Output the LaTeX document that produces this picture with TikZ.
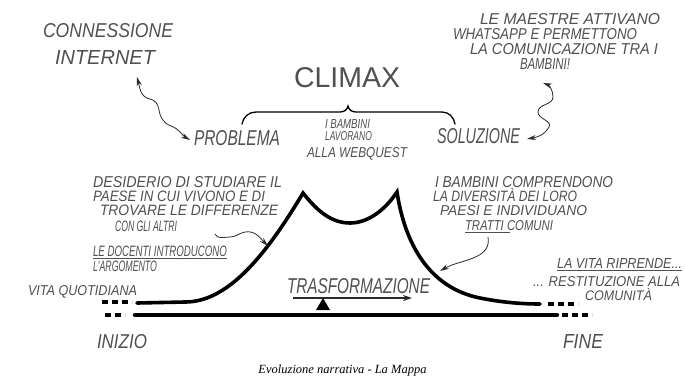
\documentclass[tikz,border=0pt]{standalone}
\usepackage{graphicx}
\usepackage{fontspec}
\usetikzlibrary{arrows.meta}
\newfontfamily\hwfont{Liberation Sans}
\newfontfamily\capfont{Liberation Serif}
\newcommand{\hwt}[3]{\resizebox{#1pt}{#2pt}{\hwfont\itshape #3}}
\newcommand{\hwu}[3]{\resizebox{#1pt}{#2pt}{\hwfont #3}}
\definecolor{ink}{HTML}{505050}
\definecolor{pen}{HTML}{2A2A2A}
\tikzset{
  hw/.style={inner sep=0pt, outer sep=0pt, anchor=base west, text=ink},
  uline/.style={draw=ink, line width=0.6pt},
  wavy/.style={draw=pen, line width=0.8pt, -{Stealth[length=9pt,width=5pt]}},
  wavyb/.style={draw=pen, line width=0.8pt, {Stealth[length=9pt,width=5pt]}-{Stealth[length=9pt,width=5pt]}},
  bigline/.style={draw=black, line width=3.6pt, line cap=round},
  baseline/.style={draw=black, line width=4.4pt, line cap=round},
  dots/.style={draw=black, line width=3.6pt, dash pattern=on 6pt off 4pt},
}
\begin{document}
\begin{tikzpicture}[x=1pt,y=-1pt]
\useasboundingbox[fill=white] (0,0) rectangle (685,381);

% top-left
\node[hw] (conn) at (43,37) {\hwt{130}{14}{CONNESSIONE}};
\node[hw] (inet) at (55,64) {\hwt{100}{14}{INTERNET}};

% climax
\node[hw] (climax) at (294,87) {\hwu{106}{20}{CLIMAX}};
\node[hw] (prob) at (194,145) {\hwt{86}{15}{PROBLEMA}};
\node[hw] (b1) at (325,128) {\hwt{45}{9}{I BAMBINI}};
\node[hw] (b2) at (325,140) {\hwt{47}{9}{LAVORANO}};
\node[hw] (b3) at (307,157) {\hwt{100}{10}{ALLA WEBQUEST}};
\node[hw] (sol) at (437,143) {\hwt{83}{15}{SOLUZIONE}};

% top-right
\node[hw] (m1) at (480,24) {\hwt{180}{11}{LE MAESTRE ATTIVANO}};
\node[hw] (m2) at (453,39) {\hwt{184}{11}{WHATSAPP E PERMETTONO}};
\node[hw] (m3) at (470,54) {\hwt{188}{11}{LA COMUNICAZIONE TRA I}};
\node[hw] (bamb) at (520,69) {\hwt{50}{11}{BAMBINI!}};

% brace
\draw[draw=black, line width=1.3pt, line cap=round]
  (242,124) to[out=80,in=180] (256,112) -- (340,112)
  to[out=0,in=-100] (348,106) to[out=-80,in=180] (356,112)
  -- (442,112) to[out=0,in=100] (455,124);

% left text block
\node[hw] (d1) at (93,187) {\hwt{189}{11}{DESIDERIO DI STUDIARE IL}};
\node[hw] (d2) at (93,201) {\hwt{172}{10.5}{PAESE IN CUI VIVONO E DI}};
\node[hw] (d3) at (100,215) {\hwt{178}{10.5}{TROVARE LE DIFFERENZE}};
\node[hw] (alt) at (115,231) {\hwt{62}{10.5}{CON GLI ALTRI}};
\node[hw] (doc) at (93,256) {\hwt{134}{10.5}{LE DOCENTI INTRODUCONO}};
\node[hw] (arg) at (93,271) {\hwt{64}{10.5}{L'ARGOMENTO}};
\node[hw] (vq) at (28,295) {\hwt{109}{10}{VITA QUOTIDIANA}};
\draw[uline] ([yshift=-2.5pt]doc.base west) -- ([yshift=-2.5pt]doc.base east);

% right text block
\node[hw] (r1) at (435,187) {\hwt{178}{11}{I BAMBINI COMPRENDONO}};
\node[hw] (r2) at (433,201) {\hwt{144}{13}{LA DIVERSITÀ DEI LORO}};
\node[hw] (r3) at (440,215) {\hwt{147}{10}{PAESI E INDIVIDUANO}};
\node[hw] (tc) at (465,230) {\hwt{88}{10}{TRATTI COMUNI}};
\draw[uline] ([yshift=-2.5pt]tc.base west) -- ([xshift=45pt,yshift=-2.5pt]tc.base west);

\node[hw] (v1) at (557,268) {\hwt{125}{10}{LA VITA RIPRENDE...}};
\node[hw] (v2) at (533,286) {\hwt{147}{10}{... RESTITUZIONE ALLA}};
\node[hw] (v3) at (585,300) {\hwt{67}{12}{COMUNITÀ}};
\draw[uline] ([yshift=-2.5pt]v1.base west) -- ([yshift=-2.5pt]v1.base east);

% transformation
\node[hw] (tra) at (287,293) {\hwt{143}{15}{TRASFORMAZIONE}};
\draw[draw=pen, line width=1.6pt, -{Stealth[length=9pt,width=6pt]}]
  ([xshift=6pt,yshift=-5pt]tra.base west) -- ([xshift=-18pt,yshift=-5pt]tra.base east);

% bottom labels
\node[hw] (ini) at (97,348) {\hwt{50}{14}{INIZIO}};
\node[hw] (fin) at (563,348) {\hwt{40}{14}{FINE}};

% main narrative curve
\coordinate (cl) at (268,246);
\coordinate (cr) at (440,271);
\draw[dots] (102,302) -- (132,302);
\draw[bigline] (137,303) -- (185,302)
  .. controls (225,302) and (262,262) .. (303,193)
  .. controls (318,212) and (332,223) .. (350,223)
  .. controls (368,223) and (385,210) .. (397,192)
  .. controls (405,245) and (430,288) .. (480,298)
  .. controls (500,302) and (520,304) .. (540,304);
\draw[dots] (548,304) -- (578,304);

% base line
\draw[dots] (105,315) -- (125,315);
\draw[baseline] (135,315) -- (557,315);
\draw[dots] (562,315) -- (592,315);
\fill[black] (316,310) -- (323,298) -- (330,310) -- cycle;

% wavy connectors
\draw[wavyb] ([xshift=-18pt,yshift=-13pt]inet.base east)
  to[out=-75,in=170] (150,99) to[out=-10,in=100] (159,110)
  to[out=-80,in=160] (171,126) to[out=-20,in=150] ([xshift=-4pt,yshift=5pt]prob.base west);
\draw[wavyb] ([xshift=23pt,yshift=-14pt]bamb.base west)
  to[out=-20,in=90] (553,97) to[out=-90,in=90] (538,112)
  to[out=-90,in=60] (549,127) to[out=-120,in=10] ([xshift=7pt,yshift=4pt]sol.base east);
\draw[wavy] ([xshift=38pt,yshift=-3pt]alt.base east)
  to[out=-70,in=180] (230,237) to[out=0,in=190] (245,232) to[out=10,in=135] (cl);
\draw[wavy] ([xshift=23pt,yshift=-7pt]tc.base west)
  to[out=-80,in=30] (cr);

% caption
\node[inner sep=0pt, anchor=base] (cap) at (342.5,373) {\capfont\itshape\fontsize{12.5}{14}\selectfont Evoluzione narrativa - La Mappa};
\end{tikzpicture}
\end{document}
